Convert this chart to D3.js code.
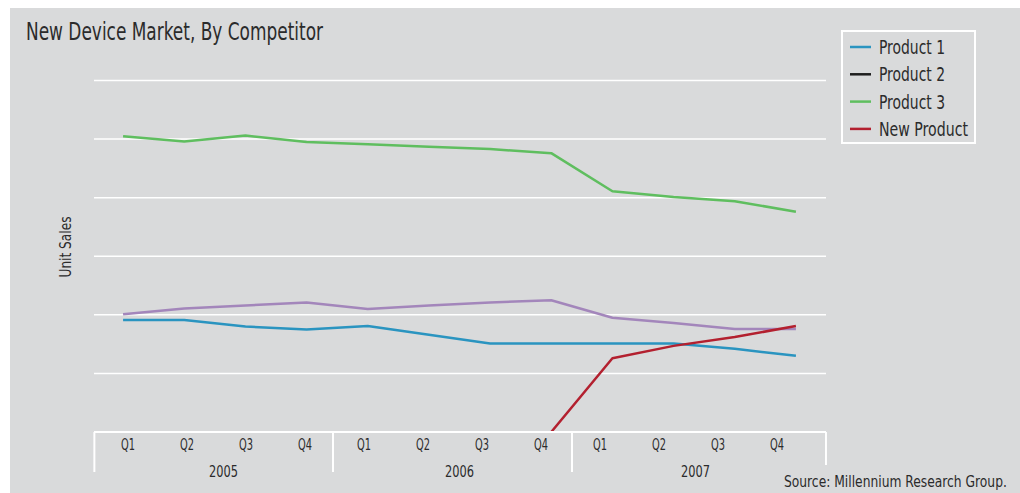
<!DOCTYPE html>
<html><head><meta charset="utf-8">
<script src="https://cdn.jsdelivr.net/npm/d3@7/dist/d3.min.js"></script>
<style>
html,body{margin:0;padding:0;background:#fff;}
text{font-family:"DejaVu Sans Condensed","Liberation Sans Narrow","DejaVu Sans",sans-serif;font-stretch:condensed;fill:#2b2b2b;}
</style></head>
<body><svg id="c" width="1020" height="493"></svg>
<script>
const quarters = ["Q1","Q2","Q3","Q4","Q1","Q2","Q3","Q4","Q1","Q2","Q3","Q4"];
const years = ["2005","2006","2007"];
const product1 = [19.1,19.1,18.0,17.5,18.1,16.6,15.1,15.1,15.1,15.1,14.2,13.0];
const product2 = [20.1,21.1,21.6,22.1,21.0,21.6,22.1,22.5,19.5,18.6,17.6,17.6];
const product3 = [50.5,49.6,50.6,49.5,49.1,48.7,48.3,47.6,41.1,40.1,39.4,37.6];
const newProduct = [null,null,null,null,null,null,null,0,12.6,14.7,16.2,18.1];
const yTicks = [0,10,20,30,40,50,60];
const legendNames = ["Product 1","Product 2","Product 3","New Product"];
const legendColors = ["#2a94c0","#1e1e1e","#5fbe5f","#b3202f"];
const series = [
  {values: product1, color: "#2a94c0"},
  {values: product2, color: "#a386bb"},
  {values: product3, color: "#5fbe5f"},
  {values: newProduct, color: "#b3202f"}
];

const svg = d3.select("#c");
svg.append("rect").attr("x",10).attr("y",8).attr("width",1010).attr("height",485).attr("fill","#d9dadb");

const idx = d3.range(quarters.length);
const xBand = d3.scaleBand().domain(idx).range([92.5, 826.5]);
const xPt = i => xBand(i) + xBand.bandwidth()/2;
const xl = d3.scalePoint().domain(idx).range([128, 777]);
const y = d3.scaleLinear().domain([0,60]).range([432, 80.5]);

function fit(sel, w){ sel.attr("textLength", w).attr("lengthAdjust","spacingAndGlyphs"); return sel; }

// gridlines
svg.append("g").selectAll("line").data(yTicks.filter(t=>t>0)).join("line")
  .attr("x1",94).attr("x2",826).attr("y1",d=>y(d)).attr("y2",d=>y(d))
  .attr("stroke","#fff").attr("stroke-width",1.5);

// title
fit(svg.append("text").attr("x",26).attr("y",40).attr("font-size",24).text("New Device Market, By Competitor"), 297);

// y label
fit(svg.append("text").attr("transform","translate(71,247) rotate(-90)").attr("text-anchor","middle")
  .attr("font-size",15).text("Unit Sales"), 61);

// lines
svg.append("clipPath").attr("id","pc").append("rect").attr("x",0).attr("y",0).attr("width",1020).attr("height",y(0));
const line = d3.line().defined(d=>d!=null).x((d,i)=>xPt(i)).y(d=>y(d));
svg.append("g").attr("clip-path","url(#pc)").selectAll("path").data(series).join("path")
  .attr("d",d=>line(d.values)).attr("fill","none").attr("stroke",d=>d.color)
  .attr("stroke-width",2.5).attr("stroke-linejoin","round");

// x axis
const ax = svg.append("g");
ax.append("line").attr("x1",94).attr("x2",826).attr("y1",y(0)).attr("y2",y(0)).attr("stroke","#fff").attr("stroke-width",2);
const step = xl.step();
const seps = [xl(0)-step*0.57, (xl(3)+xl(4))/2 - 1.5, (xl(7)+xl(8))/2 + 1.5, xl(11)+step*0.83];
ax.selectAll("line.sep").data(seps).join("line").attr("class","sep")
  .attr("x1",d=>d).attr("x2",d=>d).attr("y1",y(0)).attr("y2",(d,i)=>i===3?465:472)
  .attr("stroke","#fff").attr("stroke-width",2);
fit(ax.selectAll("text.q").data(quarters).join("text").attr("class","q")
  .attr("x",(d,i)=>xl(i)).attr("y",450).attr("text-anchor","middle").attr("font-size",15).text(d=>d), 14);
fit(ax.selectAll("text.yr").data(years).join("text").attr("class","yr")
  .attr("x",(d,i)=>(xl(i*4)+xl(i*4+3))/2+7).attr("y",477).attr("text-anchor","middle").attr("font-size",16).text(d=>d), 29);

// source (scaled horizontally so its real box fits)
const src = svg.append("text").attr("font-size",15).text("Source: Millennium Research Group.");
const natW = src.node().getComputedTextLength();
src.attr("transform", `translate(784,487) scale(${223/natW},1)`);

// legend
const lg = svg.append("g");
lg.append("rect").attr("x",842).attr("y",31).attr("width",133).attr("height",112).attr("fill","none").attr("stroke","#fff").attr("stroke-width",2);
const rows = lg.selectAll("g").data(legendNames).join("g").attr("transform",(d,i)=>`translate(0,${47+i*27.3})`);
rows.append("line").attr("x1",850).attr("x2",871).attr("y1",0).attr("y2",0).attr("stroke",(d,i)=>legendColors[i]).attr("stroke-width",2.5);
const legW = [66,66,66,89];
rows.append("text").attr("x",879).attr("y",7).attr("font-size",19).attr("textLength",(d,i)=>legW[i]).attr("lengthAdjust","spacingAndGlyphs").text(d=>d);
</script></body></html>
